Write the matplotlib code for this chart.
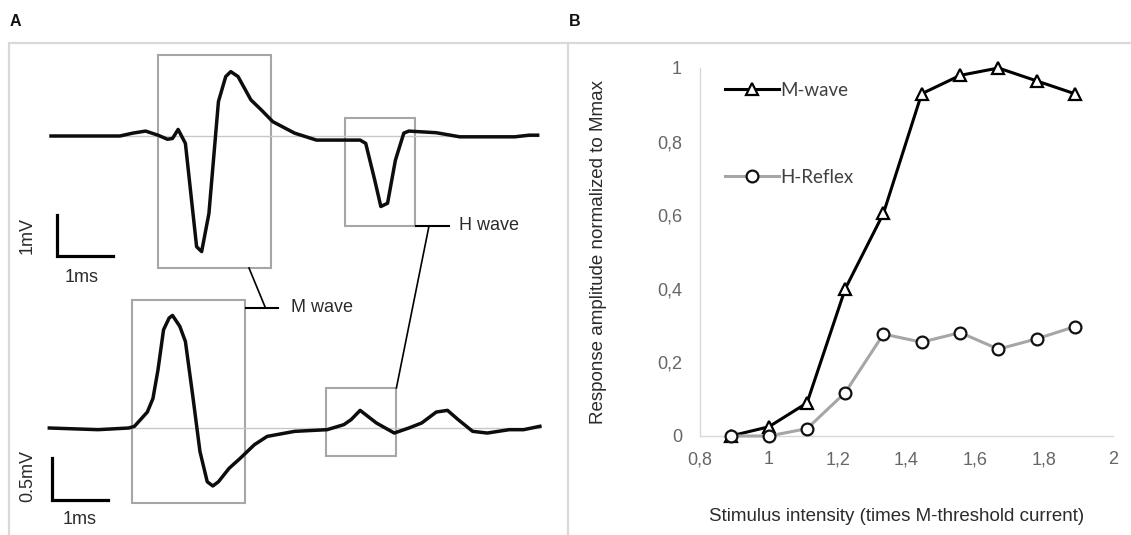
import matplotlib
matplotlib.use("Agg")
import matplotlib.pyplot as plt
from matplotlib.patches import Rectangle

plt.rcParams['font.family'] = ['Liberation Sans', 'DejaVu Sans']

# ---------------- data ----------------
# Panel A: EMG traces (time in ms, amplitude in mV)
top_t = [0.0, 1.23, 1.46, 1.69, 1.91, 2.08, 2.17, 2.27, 2.40, 2.60, 2.69, 2.82, 2.99,
         3.12, 3.21, 3.34, 3.57, 3.76, 3.96, 4.35, 4.74, 5.52, 5.62, 5.78, 5.89, 6.01,
         6.15, 6.30, 6.39, 6.88, 7.30, 8.28, 8.54, 8.69]
top_v = [0.0, 0.0, 0.07, 0.12, 0.02, -0.08, -0.06, 0.16, -0.18, -2.70, -2.82, -1.89, 0.84,
         1.45, 1.57, 1.45, 0.88, 0.63, 0.35, 0.07, -0.10, -0.10, -0.18, -1.07, -1.72, -1.64,
         -0.59, 0.07, 0.12, 0.08, -0.02, -0.02, 0.02, 0.02]
bot_t = [-0.03, 0.84, 1.39, 1.49, 1.72, 1.82, 1.91, 2.01, 2.11, 2.17, 2.30, 2.40, 2.53,
         2.66, 2.79, 2.89, 2.99, 3.18, 3.38, 3.63, 3.86, 4.35, 4.93, 5.23, 5.36, 5.52,
         5.81, 6.13, 6.39, 6.62, 6.88, 7.08, 7.27, 7.53, 7.79, 8.18, 8.44, 8.73]
bot_v = [0.0, -0.02, 0.0, 0.02, 0.19, 0.35, 0.69, 1.17, 1.31, 1.34, 1.21, 1.03, 0.39,
         -0.28, -0.64, -0.69, -0.64, -0.48, -0.36, -0.20, -0.10, -0.04, -0.02, 0.04, 0.10, 0.21,
         0.06, -0.06, 0.0, 0.06, 0.19, 0.21, 0.10, -0.04, -0.06, -0.02, -0.02, 0.02]

# Panel B: recruitment curves
stim = [0.889, 1.0, 1.111, 1.222, 1.333, 1.444, 1.556, 1.667, 1.778, 1.889]
m_wave = [0.0, 0.025, 0.09, 0.40, 0.605, 0.93, 0.98, 1.0, 0.965, 0.93]
h_reflex = [0.0, 0.0, 0.02, 0.118, 0.277, 0.255, 0.281, 0.236, 0.264, 0.297]
yticks = [0, 0.2, 0.4, 0.6, 0.8, 1.0]
ytick_labels = ["0", "0,2", "0,4", "0,6", "0,8", "1"]
xticks = [0.8, 1.0, 1.2, 1.4, 1.6, 1.8, 2.0]
xtick_labels = ["0,8", "1", "1,2", "1,4", "1,6", "1,8", "2"]

# ---------------- figure ----------------
W, H = 1131, 535
fig = plt.figure(figsize=(W / 100, H / 100), dpi=100)

# overlay in pixel coordinates for frames & annotations
ov = fig.add_axes([0, 0, 1, 1])
ov.set_xlim(0, W)
ov.set_ylim(H, 0)
ov.axis('off')
ov.set_zorder(0)

frame_c = '#d9d9d9'
ov.plot([8, W], [43, 43], color=frame_c, lw=1.6, solid_capstyle='butt')
ov.plot([9, 9], [43, H], color=frame_c, lw=1.6, solid_capstyle='butt')
ov.plot([568, 568], [43, H], color=frame_c, lw=1.6, solid_capstyle='butt')
ov.text(15, 21, 'A', fontsize=11.5, fontweight='bold', ha='center', va='center', color='#111111')
ov.text(575, 21, 'B', fontsize=11.5, fontweight='bold', ha='center', va='center', color='#111111')

box_c = '#a6a6a6'
for (x0, y0, x1, y1) in [(158, 55, 271, 268), (345, 118, 415, 226),
                         (132, 300, 245, 503), (326, 388, 396, 456)]:
    ov.add_patch(Rectangle((x0, y0), x1 - x0, y1 - y0, fill=False, ec=box_c, lw=1.5))

txt_c = '#2b2b2b'
# H wave annotation
ov.plot([416, 449], [226, 226], color='black', lw=1.5)
ov.plot([429, 396.4], [226, 388], color='black', lw=1.2)
ov.text(459, 226, 'H wave', fontsize=13, va='center', ha='left', color=txt_c)
# M wave annotation
ov.plot([245.5, 278], [308, 308], color='black', lw=1.5)
ov.plot([249, 265.5], [268, 308], color='black', lw=1.2)
ov.text(291, 308, 'M wave', fontsize=13, va='center', ha='left', color=txt_c)
# scale-bar labels
ov.text(27, 235, '1mV', fontsize=13, rotation=90, va='center', ha='center', color=txt_c)
ov.text(82, 277, '1ms', fontsize=13, va='center', ha='center', color=txt_c)
ov.text(28, 476, '0.5mV', fontsize=13, rotation=90, va='center', ha='center', color=txt_c)
ov.text(80, 520, '1ms', fontsize=13, va='center', ha='center', color=txt_c)


def trace_axes(xl, xr, yt, yb, t0_px, base_px, px_ms, px_mv):
    a = fig.add_axes([xl / W, 1 - yb / H, (xr - xl) / W, (yb - yt) / H])
    a.set_xlim((xl - t0_px) / px_ms, (xr - t0_px) / px_ms)
    a.set_ylim((base_px - yb) / px_mv, (base_px - yt) / px_mv)
    a.axis('off')
    a.patch.set_alpha(0)
    a.set_zorder(1)
    return a


px_ms = 56.0
ax_top = trace_axes(20, 560, 45, 290, 51, 136, px_ms, 41.0)
ax_bot = trace_axes(20, 560, 290, 530, 51, 428, px_ms, 84.0)

for a, t, v in [(ax_top, top_t, top_v), (ax_bot, bot_t, bot_v)]:
    a.plot([t[0], t[-1]], [0, 0], color='#c8c8c8', lw=1.0, zorder=1)
    a.plot(t, v, color='#0d0d0d', lw=2.5, solid_joinstyle='round', zorder=2)

# scale bars (1 ms x 1 mV, 1 ms x 0.5 mV)
ax_top.plot([0.107, 0.107, 1.107], [-1.93, -2.93, -2.93], color='black', lw=2.3,
            solid_joinstyle='miter', clip_on=False)
ax_bot.plot([0.018, 0.018, 1.018], [-0.357, -0.857, -0.857], color='black', lw=2.3,
            solid_joinstyle='miter', clip_on=False)

# ---------------- panel B ----------------
axb = fig.add_axes([700 / W, 1 - 436 / H, 413 / W, 368 / H])
axb.set_xlim(0.8, 2.0)
axb.set_ylim(0, 1.0)
axb.patch.set_alpha(0)
for s in ['top', 'right']:
    axb.spines[s].set_visible(False)
for s in ['left', 'bottom']:
    axb.spines[s].set_color('#d9d9d9')
    axb.spines[s].set_linewidth(1.0)

axb.plot(stim, m_wave, color='black', lw=2.2, marker='^', ms=8.5, mfc='white',
         mec='black', mew=1.6, label='M-wave', clip_on=False, zorder=3)
axb.plot(stim, h_reflex, color='#a6a6a6', lw=2.2, marker='o', ms=8.5, mfc='white',
         mec='#111111', mew=1.6, label='H-Reflex', clip_on=False, zorder=4)

axb.set_xticks(xticks)
axb.set_xticklabels(xtick_labels)
axb.set_yticks(yticks)
axb.set_yticklabels(ytick_labels)
axb.tick_params(length=0, labelsize=13, labelcolor='#666666')
axb.tick_params(axis='y', pad=13)
axb.tick_params(axis='x', pad=11)

axb.set_xlabel('Stimulus intensity (times M-threshold current)', fontsize=13.5,
               color='#2b2b2b')
axb.xaxis.set_label_coords(0.477, -0.195)
axb.set_ylabel('Response amplitude normalized to Mmax', fontsize=13.5,
               color='#2b2b2b')
axb.yaxis.set_label_coords(-0.225, 0.5)

leg = axb.legend(loc='upper left', bbox_to_anchor=(0.06, 0.962), frameon=False,
                 handlelength=2.9, handletextpad=0.05, labelspacing=3.72,
                 borderpad=0, borderaxespad=0,
                 prop={'family': ['Lato', 'DejaVu Sans'], 'size': 13.5})
for t in leg.get_texts():
    t.set_color('#404040')

fig.savefig('out.png', dpi=100)
